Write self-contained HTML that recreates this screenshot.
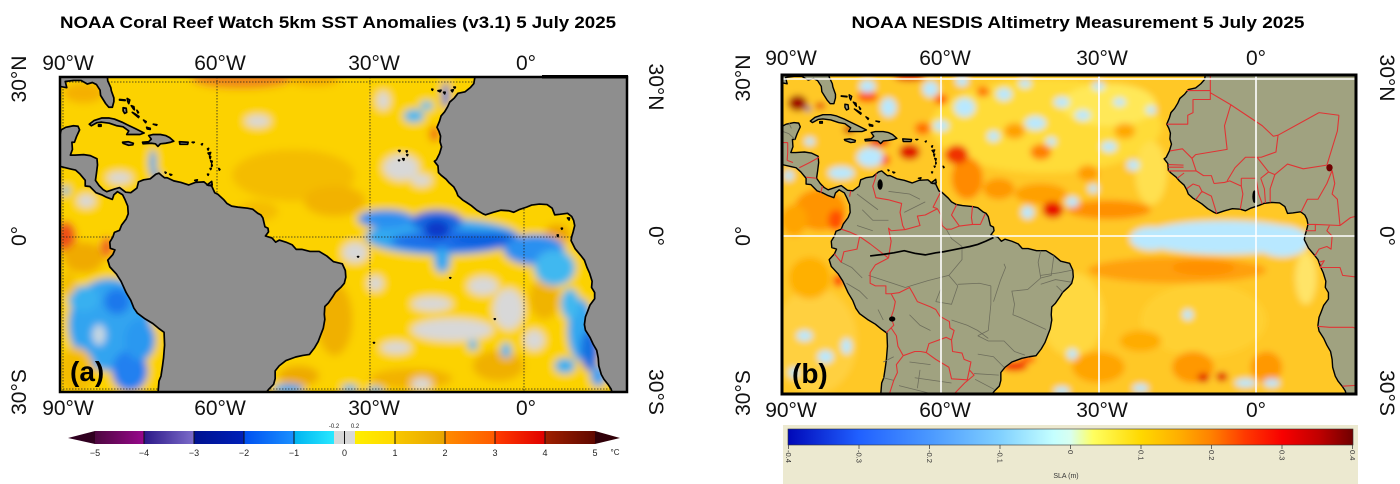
<!DOCTYPE html>
<html><head><meta charset="utf-8"><style>
html,body{margin:0;padding:0;background:#fff;}
svg{display:block;}
text{font-family:"Liberation Sans","DejaVu Sans",sans-serif;}
</style></head><body>
<svg width="1400" height="484" viewBox="0 0 1400 484" xmlns="http://www.w3.org/2000/svg">
<defs>
<clipPath id="cA"><rect x="60" y="77" width="567" height="316"/></clipPath>
<clipPath id="cB"><rect x="782" y="75" width="574" height="320"/></clipPath>
<filter id="bA" filterUnits="userSpaceOnUse" x="-110" y="-45" width="150" height="90"><feGaussianBlur stdDeviation="0.8"/></filter>
<filter id="bB" filterUnits="userSpaceOnUse" x="-110" y="-45" width="150" height="90"><feGaussianBlur stdDeviation="0.6"/></filter>
<path id="am" vector-effect="non-scaling-stroke" d="M-95,-18.5 L-94,-18.2 L-92.5,-18.6 L-91.5,-18.5 L-90.7,-19.5 L-90.4,-20.8 L-89.5,-21.3 L-88,-21.6 L-87.1,-21.5 L-86.8,-20.8 L-87.4,-19.5 L-87.8,-18.4 L-88.3,-18.4 L-88.2,-17 L-88.6,-15.9 L-87.7,-15.9 L-86,-16 L-84.7,-15.8 L-83.4,-15.2 L-83.3,-14 L-83.5,-12.4 L-83.7,-11 L-83,-10 L-82.2,-9.2 L-81.5,-8.8 L-80,-9.3 L-79,-9.6 L-77.8,-8.7 L-76.8,-8.6 L-75.6,-9.5 L-75.3,-10.7 L-74.3,-11.1 L-73,-11.3 L-71.9,-12.2 L-71.3,-12.4 L-70.6,-11.8 L-70.2,-11.5 L-69.7,-11.5 L-68.4,-10.9 L-67,-10.6 L-65.5,-10.1 L-64.2,-10.6 L-62.5,-10.7 L-61.9,-10.2 L-61,-9.9 L-60.4,-8.6 L-59.8,-8.3 L-58.6,-7.2 L-58,-6.5 L-57.1,-6 L-55.9,-5.8 L-54,-5.6 L-53,-5.4 L-52,-4.6 L-51.4,-4.3 L-51,-3.7 L-50.6,-2 L-50,-1.7 L-49.9,-1 L-50.5,-0.2 L-49.2,0.2 L-48.5,1 L-47.8,0.6 L-46.5,1 L-45.3,1.5 L-44.5,2.4 L-43.4,2.4 L-41.8,2.8 L-40,2.8 L-38.5,3.7 L-37.2,4.8 L-35.5,5.2 L-34.9,6.5 L-34.8,7.8 L-35.1,9 L-35.7,9.7 L-36.8,10.7 L-37.3,11.5 L-38.2,12.8 L-38.9,13.5 L-39,15 L-38.9,16 L-39.2,17.7 L-39.7,19 L-40.2,20.3 L-40.9,21.5 L-41.9,22.8 L-43.2,23 L-44.6,23.3 L-46.5,24 L-47.8,25 L-48.6,26 L-48.6,27.5 L-48.9,28.6 L-49.8,29.5 L-50.6,30.5 L-51.3,31.5 L-52.2,32.5 L-53.5,34 L-55,36 L-72,36 L-71.6,33 L-71.5,30.5 L-71.3,28 L-70.9,27 L-70.6,25 L-70.4,23.5 L-70.2,21 L-70.3,18.5 L-71.4,17.7 L-72.5,16.8 L-74,15.9 L-75.5,14.8 L-76.2,13.8 L-76.8,12.3 L-77.7,10.8 L-78.7,8.6 L-79.6,7.2 L-80.9,5.8 L-81.3,4.5 L-80.3,3.4 L-79.9,2.5 L-80.8,2.2 L-80.9,1 L-80.3,0 L-80,-0.9 L-79,-1.3 L-78.6,-2.3 L-77.7,-3.5 L-77.3,-4.5 L-77.4,-6 L-77.9,-7.2 L-78.4,-8.2 L-79.4,-8.8 L-80.1,-8.2 L-80.4,-7.3 L-81.5,-7.7 L-82.5,-8.2 L-83.6,-8.6 L-84.8,-9.8 L-85.7,-9.9 L-85.7,-11 L-86.7,-12.2 L-87.6,-13 L-88.5,-13.2 L-89.8,-13.5 L-91.3,-13.9 L-92.2,-14.5 L-93.5,-15.7 L-95,-16.1 Z"/>
<path id="fl" vector-effect="non-scaling-stroke" d="M-95,-35 L-95,-29.5 L-93,-29.7 L-91,-29.3 L-89.3,-29 L-89.6,-30.2 L-88,-30.4 L-86.5,-30.4 L-85.3,-29.7 L-84.3,-30 L-83.5,-29.6 L-82.8,-28.5 L-82.7,-27.5 L-82.2,-26.7 L-81.7,-25.9 L-81.1,-25.2 L-80.4,-25.2 L-80.1,-26.3 L-80.1,-27 L-80.6,-28.4 L-80.7,-29 L-81.3,-30.3 L-81.4,-31.5 L-80.5,-35 Z"/>
<path id="af" vector-effect="non-scaling-stroke" d="M-10,-36 L-9.6,-31 L-9.8,-29.8 L-10.5,-29 L-11.5,-28.2 L-12.9,-27.9 L-13.6,-27 L-14.5,-26.2 L-14.9,-25.3 L-15.5,-24.3 L-16.2,-23.5 L-16.5,-22.5 L-17,-21.3 L-16.6,-20.5 L-16.3,-19.6 L-16.4,-18.5 L-16.1,-17.5 L-16.5,-16.2 L-17.1,-15 L-17.5,-14.7 L-16.8,-13.8 L-16.7,-12.5 L-16.2,-12 L-15.2,-11.2 L-14.6,-10.5 L-13.7,-9.7 L-13.2,-8.8 L-12.9,-8 L-12,-7.2 L-11.2,-6.7 L-10.3,-6.1 L-9.2,-5.2 L-8,-4.5 L-7.5,-4.3 L-6,-4.8 L-4.5,-5.2 L-3,-5.1 L-2,-4.8 L-1,-5.3 L0.5,-5.8 L1.5,-6.2 L3,-6.4 L4.5,-6.3 L5.5,-5.6 L6,-4.3 L7,-4.4 L8.5,-4.6 L9.3,-4 L9.7,-3.2 L9.9,-2.2 L9.6,-1 L9.3,0 L9.2,0.7 L10,2.3 L11.1,3.6 L11.8,4.5 L12.3,5.9 L12.8,7 L13.3,8.6 L13.2,9.8 L13.8,10.8 L13.8,12 L12.9,13.2 L12.4,14.5 L12,15.5 L11.8,17 L12,18.1 L12.9,19.5 L13.5,20.8 L14.2,22 L14.5,23.5 L14.6,25 L15.1,26.7 L15.6,27.6 L16.4,28.6 L17,29.5 L17.3,30.5 L18,32 L18.3,34 L30,36 L30,-36 Z"/>
<path id="isl" vector-effect="non-scaling-stroke" d="M-84.9,-21.9 L-84,-22.6 L-82.5,-23.1 L-81,-23.1 L-80,-22.9 L-78.5,-22.3 L-77.5,-21.8 L-76,-21.1 L-74.2,-20.2 L-75,-19.9 L-76.5,-19.9 L-77.6,-19.9 L-77.2,-20.6 L-78.3,-21.4 L-79.5,-21.6 L-81,-22.1 L-82.5,-22.3 L-83.4,-22.2 L-84.5,-21.6 Z M-83.1,-21.8 L-82.6,-21.8 L-82.6,-21.5 L-83.1,-21.5 Z M-74.5,-18.4 L-73.3,-18.5 L-72.8,-19 L-73.3,-19.7 L-72.5,-19.9 L-71,-19.9 L-70,-19.7 L-69.2,-19.3 L-68.4,-18.6 L-69,-18.4 L-70,-18.2 L-71,-18.1 L-71.5,-17.6 L-72,-18.1 L-72.8,-18.2 L-74.4,-18.1 Z M-78.4,-18.4 L-77.3,-18.5 L-76.3,-18.2 L-76.4,-17.9 L-77.2,-17.8 L-78.3,-18.2 Z M-67.3,-18.5 L-65.6,-18.4 L-65.7,-18 L-67.2,-18 Z M-79,-26.7 L-77.9,-26.6 L-77.9,-26.5 L-79,-26.6 Z M-77.5,-26.9 L-77,-26.6 L-77.2,-25.9 L-77.4,-26.3 Z M-78.3,-25.1 L-77.7,-25 L-77.6,-24.2 L-78,-24 L-78.3,-24.5 Z M-76.7,-25.5 L-76.2,-25.3 L-76.1,-24.7 L-76.3,-24.9 Z M-76.5,-24.2 L-75.3,-23.2 L-75.2,-23.4 L-76.3,-24.1 Z M-75.6,-24.6 L-75.3,-24.2 L-75.4,-24.1 Z M-73.7,-21.3 L-73,-21.1 L-73,-20.9 L-73.6,-21 Z M-74.3,-22.7 L-73.8,-22.4 L-73.9,-22.2 Z M-72.4,-21.9 L-71.7,-21.8 L-71.8,-21.7 Z M-61.9,-10.1 L-61,-10.8 L-60.9,-10.1 L-61.6,-10 Z M-64.3,-11 L-63.8,-11.1 L-63.9,-10.9 Z M-69.2,-12.2 L-68.8,-12.1 L-69,-12 Z M-70.1,-12.6 L-69.9,-12.5 L-70,-12.4 Z M-61.8,-17.1 L-61.6,-17.2 L-61.7,-16.9 Z M-61.7,-16.3 L-61.2,-16.4 L-61.4,-15.9 Z M-61.4,-15.6 L-61.2,-15.6 L-61.3,-15.2 Z M-61.2,-14.8 L-60.9,-14.7 L-61,-14.4 Z M-61,-14.1 L-60.9,-13.9 L-61,-13.7 Z M-61.3,-13.3 L-61.1,-13.3 L-61.2,-13.1 Z M-61.8,-12.2 L-61.6,-12.2 L-61.7,-12 Z M-59.6,-13.3 L-59.4,-13.1 L-59.5,-13 Z M-63,-18 L-62.8,-18.1 L-62.9,-17.9 Z M-64.8,-18.4 L-64.4,-18.4 L-64.6,-18.3 Z"/>
<path id="ais" vector-effect="non-scaling-stroke" d="M-24.5,-16.8 L-24.2,-16.8 L-24.3,-16.6 Z M-23,-16.7 L-22.8,-16.7 L-22.9,-16.5 Z M-22.9,-16 L-22.7,-16 L-22.8,-15.8 Z M-24.5,-14.9 L-24.3,-14.9 L-24.4,-14.8 Z M-23.7,-15.2 L-23.4,-15.2 L-23.5,-14.9 Z M-18,-28.7 L-17.8,-28.7 L-17.9,-28.5 Z M-16.8,-28.4 L-16.2,-28.5 L-16.4,-28.2 Z M-15.7,-28.1 L-15.4,-28.1 L-15.5,-27.8 Z M-14.2,-28.5 L-13.8,-28.6 L-14,-28.2 Z M-13.7,-29.1 L-13.4,-29.1 L-13.5,-28.9 Z M8.5,-3.7 L8.9,-3.7 L8.8,-3.3 Z M7.3,-1.7 L7.5,-1.7 L7.4,-1.5 Z M6.5,-0.4 L6.7,-0.4 L6.6,-0.1 Z M-32.5,3.8 L-32.3,3.8 L-32.4,3.9 Z M-14.5,7.9 L-14.3,7.9 L-14.4,8 Z M-5.8,15.9 L-5.6,15.9 L-5.7,16 Z M-29.4,20.5 L-29.2,20.5 L-29.3,20.6 Z"/>
<linearGradient id="g1"><stop offset="0" stop-color="#4e0840"/><stop offset="1" stop-color="#98088c"/></linearGradient>
<linearGradient id="g2"><stop offset="0" stop-color="#2c1888"/><stop offset="1" stop-color="#7c6cca"/></linearGradient>
<linearGradient id="g3"><stop offset="0" stop-color="#001290"/><stop offset="1" stop-color="#0020b8"/></linearGradient>
<linearGradient id="g4"><stop offset="0" stop-color="#0050f0"/><stop offset="1" stop-color="#1a90ff"/></linearGradient>
<linearGradient id="g5"><stop offset="0" stop-color="#00b4f0"/><stop offset="1" stop-color="#28e8ff"/></linearGradient>
<linearGradient id="g7"><stop offset="0" stop-color="#ffee00"/><stop offset="1" stop-color="#ffd800"/></linearGradient>
<linearGradient id="g8"><stop offset="0" stop-color="#f8c800"/><stop offset="1" stop-color="#e8a400"/></linearGradient>
<linearGradient id="g9"><stop offset="0" stop-color="#ff8c00"/><stop offset="1" stop-color="#ff5a00"/></linearGradient>
<linearGradient id="g10"><stop offset="0" stop-color="#ff3c00"/><stop offset="1" stop-color="#e00000"/></linearGradient>
<linearGradient id="g11"><stop offset="0" stop-color="#a02000"/><stop offset="1" stop-color="#600800"/></linearGradient>
<linearGradient id="gB">
<stop offset="0" stop-color="#0008b8"/><stop offset="0.125" stop-color="#2060ff"/><stop offset="0.25" stop-color="#4a98ff"/><stop offset="0.375" stop-color="#80d0ff"/><stop offset="0.47" stop-color="#c4ffff"/><stop offset="0.5" stop-color="#d8fff0"/><stop offset="0.54" stop-color="#ffff60"/><stop offset="0.625" stop-color="#ffd800"/><stop offset="0.69" stop-color="#ffb000"/><stop offset="0.75" stop-color="#ff8000"/><stop offset="0.81" stop-color="#ff3800"/><stop offset="0.875" stop-color="#f80000"/><stop offset="0.94" stop-color="#c00000"/><stop offset="1" stop-color="#700000"/>
</linearGradient>
</defs>

<!-- ================= PANEL A ================= -->
<text x="338" y="28" text-anchor="middle" font-size="17" font-weight="bold" textLength="556" lengthAdjust="spacingAndGlyphs">NOAA Coral Reef Watch 5km SST Anomalies (v3.1) 5 July 2025</text>

<g clip-path="url(#cA)">
<g transform="translate(524,237) scale(5.12,5.15)">
<g filter="url(#bA)">
<rect x="-100" y="-40" width="140" height="80" fill="#fcd200"/>
<ellipse cx="-45" cy="-12" rx="12" ry="5" fill="#f4bc00"/>
<ellipse cx="-37" cy="-7" rx="6" ry="3" fill="#f2b200"/>
<ellipse cx="-52" cy="-5" rx="4" ry="2" fill="#f4bc00"/>
<ellipse cx="-55" cy="-30.8" rx="10" ry="2" fill="#f08818"/>
<ellipse cx="-41" cy="-30.6" rx="5" ry="1.3" fill="#f5aa00"/>
<ellipse cx="-86" cy="-28" rx="4" ry="2" fill="#f5b000"/>
<ellipse cx="-89.5" cy="0" rx="2" ry="3" fill="#ee5018"/>
<ellipse cx="-81.5" cy="2" rx="1.2" ry="2" fill="#f06020"/>
<ellipse cx="-86" cy="4" rx="4" ry="3" fill="#f0aa00"/>
<ellipse cx="-37" cy="16" rx="3.5" ry="7" fill="#f0b000"/>
<ellipse cx="-44" cy="27" rx="4" ry="2" fill="#eeaa00"/>
<ellipse cx="-22" cy="27.5" rx="8" ry="2" fill="#f2b200"/>
<ellipse cx="-5" cy="25" rx="5" ry="3" fill="#f0b000"/>
<ellipse cx="4" cy="12" rx="3" ry="4" fill="#f0b400"/>
<ellipse cx="6.5" cy="-0.5" rx="2.5" ry="2" fill="#eea400"/>
<ellipse cx="-17.5" cy="-20" rx="1" ry="1.5" fill="#f07010"/>
<g fill="#d8d8d8">
<ellipse cx="-52" cy="-22.5" rx="2.5" ry="1.2"/>
<ellipse cx="-27.5" cy="-26.5" rx="1.3" ry="1.8"/>
<ellipse cx="-24" cy="-13.5" rx="3.5" ry="2.5"/>
<ellipse cx="-20" cy="-11" rx="2" ry="1.2"/>
<ellipse cx="-79" cy="-11.5" rx="2.5" ry="1.2"/>
<ellipse cx="-85.5" cy="-7" rx="1.8" ry="1.3"/>
<ellipse cx="-33" cy="3" rx="2.5" ry="2"/>
<ellipse cx="-14" cy="18" rx="8" ry="2.2"/>
<ellipse cx="-18" cy="13" rx="4" ry="1.4"/>
<ellipse cx="-3" cy="14" rx="3" ry="4"/>
<ellipse cx="-25" cy="21.5" rx="3" ry="1.2"/>
<ellipse cx="-8" cy="9.5" rx="3" ry="1.8"/>
<ellipse cx="-29" cy="9" rx="1.5" ry="1.5"/>
<ellipse cx="-20" cy="28.5" rx="2" ry="1.2"/>
<ellipse cx="2" cy="20" rx="2" ry="2"/>
</g>
<ellipse cx="-16" cy="0" rx="15" ry="3.5" fill="#30a8f0"/>
<ellipse cx="-27" cy="-3.5" rx="5.5" ry="1.8" fill="#2a90f0"/>
<ellipse cx="-17" cy="-3" rx="5" ry="2.2" fill="#1468e0"/>
<ellipse cx="-14" cy="0.8" rx="12" ry="2" fill="#1a6ee8"/>
<ellipse cx="-17" cy="-1.5" rx="2.5" ry="1.8" fill="#0838c8"/>
<ellipse cx="-7" cy="0.5" rx="7" ry="1.5" fill="#1060e0"/>
<ellipse cx="-16" cy="4.5" rx="1.6" ry="2.5" fill="#30a8f0"/>
<ellipse cx="2" cy="2.5" rx="6" ry="3" fill="#2a90f0"/>
<ellipse cx="6" cy="6" rx="4" ry="3.5" fill="#40b8f0"/>
<ellipse cx="11" cy="18" rx="2.5" ry="6" fill="#30a8f0"/>
<ellipse cx="12.8" cy="22" rx="1.8" ry="4" fill="#1470e0"/>
<ellipse cx="9" cy="13" rx="1.8" ry="3" fill="#40b8f0"/>
<ellipse cx="8" cy="25" rx="2" ry="1.5" fill="#30b0f0"/>
<ellipse cx="14.5" cy="27" rx="1.5" ry="2" fill="#3aa0f0"/>
<!-- SE Pacific -->
<ellipse cx="-81" cy="17" rx="8" ry="9" fill="#30a4f0"/>
<ellipse cx="-79.5" cy="12.5" rx="2.5" ry="2.5" fill="#1c78ec"/>
<ellipse cx="-77" cy="26" rx="3.5" ry="4" fill="#2280f0"/>
<ellipse cx="-86" cy="12" rx="3" ry="2.5" fill="#38b0f0"/>
<ellipse cx="-75" cy="20" rx="3" ry="4" fill="#2c98f0"/>
<ellipse cx="-83" cy="19" rx="1.3" ry="2" fill="#c8d8e0"/>
<ellipse cx="-87.5" cy="26" rx="3.5" ry="4.5" fill="#f4bc00"/>
<ellipse cx="-89" cy="9" rx="1.5" ry="2.5" fill="#f4c000"/>
<ellipse cx="-15.3" cy="-27.5" rx="0.7" ry="2.5" fill="#2070e0"/>
<ellipse cx="-21.5" cy="-23.5" rx="2" ry="1.3" fill="#40b8f0"/>
<ellipse cx="-19" cy="-25.5" rx="1.3" ry="0.9" fill="#50c0f0"/>
<ellipse cx="-72.5" cy="-14.5" rx="0.7" ry="2.5" fill="#30a8f0"/>
<ellipse cx="-71.8" cy="-12" rx="0.9" ry="0.7" fill="#1890e8"/>
<ellipse cx="-89.5" cy="-9" rx="0.8" ry="0.8" fill="#40b8f0"/>
<ellipse cx="-46" cy="29.5" rx="3" ry="1" fill="#30a8f0"/>
<ellipse cx="-34" cy="29.5" rx="1.5" ry="0.8" fill="#40b8f0"/>
<ellipse cx="-29" cy="29.8" rx="1.5" ry="0.7" fill="#40b8f0"/>
<ellipse cx="-10" cy="21" rx="1" ry="1" fill="#40b8f0"/>
<ellipse cx="-3.5" cy="22" rx="1" ry="1.5" fill="#40b8f0"/>
</g>
</g>
<!-- dotted gridlines A -->
<g stroke="#222" stroke-width="0.8" stroke-dasharray="1.5,1.5" fill="none">
<line x1="63" y1="77" x2="63" y2="393"/>
<line x1="217" y1="77" x2="217" y2="393"/>
<line x1="370" y1="77" x2="370" y2="393"/>
<line x1="524" y1="77" x2="524" y2="393"/>
<line x1="60" y1="237" x2="627" y2="237"/>
<line x1="60" y1="82" x2="627" y2="82"/>
<line x1="60" y1="389" x2="627" y2="389"/>
</g>
<g transform="translate(524,237) scale(5.12,5.15)" fill="#8e8e8e" stroke="#000" stroke-width="1.7" stroke-linejoin="round">
<use href="#am"/><use href="#fl"/><use href="#af"/><use href="#isl"/><use href="#ais"/>
</g>
</g>
<rect x="60" y="77" width="567" height="315" fill="none" stroke="#000" stroke-width="2.5"/>
<rect x="542" y="75" width="86" height="3.5" fill="#000"/>

<g font-size="21" fill="#111" text-anchor="middle">
<text x="68" y="70">90°W</text><text x="220" y="70">60°W</text><text x="374" y="70">30°W</text><text x="526" y="70">0°</text>
<text x="68" y="415">90°W</text><text x="220" y="415">60°W</text><text x="374" y="415">30°W</text><text x="526" y="415">0°</text>
<text transform="translate(26,79) rotate(-90)">30°N</text>
<text transform="translate(26,236) rotate(-90)">0°</text>
<text transform="translate(26,392) rotate(-90)">30°S</text>
<text transform="translate(649,87) rotate(90)">30°N</text>
<text transform="translate(649,236) rotate(90)">0°</text>
<text transform="translate(649,392) rotate(90)">30°S</text>
</g>
<text x="70" y="381" font-family="'Liberation Serif',serif" font-weight="bold" font-size="28" fill="#000">(a)</text>

<!-- colorbar A -->
<polygon points="68,438 95,431 95,444" fill="#300020"/>
<polygon points="620,438 595,431 595,444" fill="#300008"/>
<rect x="95" y="431" width="49" height="13" fill="url(#g1)"/>
<rect x="144" y="431" width="50" height="13" fill="url(#g2)"/>
<rect x="194" y="431" width="50" height="13" fill="url(#g3)"/>
<rect x="244" y="431" width="50" height="13" fill="url(#g4)"/>
<rect x="294" y="431" width="40" height="13" fill="url(#g5)"/>
<rect x="334" y="431" width="21" height="13" fill="#d8d8d8"/>
<rect x="355" y="431" width="40" height="13" fill="url(#g7)"/>
<rect x="395" y="431" width="50" height="13" fill="url(#g8)"/>
<rect x="445" y="431" width="50" height="13" fill="url(#g9)"/>
<rect x="495" y="431" width="50" height="13" fill="url(#g10)"/>
<rect x="545" y="431" width="50" height="13" fill="url(#g11)"/>
<g stroke="#111" stroke-width="1">
<line x1="144" y1="431" x2="144" y2="444"/><line x1="194" y1="431" x2="194" y2="444"/><line x1="244" y1="431" x2="244" y2="444"/><line x1="294" y1="431" x2="294" y2="444"/><line x1="344.5" y1="431" x2="344.5" y2="444"/><line x1="395" y1="431" x2="395" y2="444"/><line x1="445" y1="431" x2="445" y2="444"/><line x1="495" y1="431" x2="495" y2="444"/><line x1="545" y1="431" x2="545" y2="444"/>
</g>
<g font-size="9" fill="#222" text-anchor="middle">
<text x="95" y="456">−5</text><text x="144" y="456">−4</text><text x="194" y="456">−3</text><text x="244" y="456">−2</text><text x="294" y="456">−1</text><text x="344.5" y="456">0</text><text x="395" y="456">1</text><text x="445" y="456">2</text><text x="495" y="456">3</text><text x="545" y="456">4</text><text x="595" y="456">5</text>
<text x="615" y="455" font-size="8">°C</text>
<text x="334" y="428" font-size="6">-0.2</text><text x="355" y="428" font-size="6">0.2</text>
</g>

<!-- ================= PANEL B ================= -->
<text x="1078" y="28" text-anchor="middle" font-size="17" font-weight="bold" textLength="453" lengthAdjust="spacingAndGlyphs">NOAA NESDIS Altimetry Measurement 5 July 2025</text>

<g clip-path="url(#cB)">
<g transform="translate(1256,236) scale(5.25,5.25)">
<g filter="url(#bB)">
<rect x="-100" y="-40" width="140" height="80" fill="#ffc828"/>
<ellipse cx="-40" cy="-21" rx="22" ry="9" fill="#ffdc38"/>
<ellipse cx="-28" cy="-25" rx="9" ry="4" fill="#ffe858"/>
<ellipse cx="-10" cy="16" rx="12" ry="7" fill="#ffd030"/>
<ellipse cx="-35" cy="15" rx="6" ry="8" fill="#ffd840"/>
<ellipse cx="-84" cy="20" rx="8" ry="10" fill="#ffd040"/>
<ellipse cx="-20" cy="-12" rx="3" ry="6" fill="#ffe050"/>
<ellipse cx="9.5" cy="8" rx="2" ry="5" fill="#ffe468"/>
<ellipse cx="-15" cy="6.5" rx="17" ry="2.5" fill="#ffa010"/>
<ellipse cx="-10" cy="6" rx="6" ry="1.5" fill="#ff9000"/>
<ellipse cx="-28" cy="-5" rx="8" ry="1.8" fill="#ff9000"/>
<ellipse cx="-55" cy="-11" rx="3" ry="4" fill="#ff8a00"/>
<ellipse cx="-49" cy="-9" rx="3" ry="2" fill="#ff9800"/>
<ellipse cx="-41" cy="-8" rx="5" ry="2" fill="#ffa000"/>
<ellipse cx="-83" cy="-5" rx="5" ry="4" fill="#ff9400"/>
<ellipse cx="-88" cy="-3" rx="2.5" ry="3" fill="#ffa400"/>
<ellipse cx="-12" cy="25" rx="4" ry="3" fill="#ff9800"/>
<ellipse cx="2" cy="25" rx="3" ry="3" fill="#ff9800"/>
<ellipse cx="-30" cy="25" rx="5" ry="3" fill="#ffa400"/>
<ellipse cx="-22" cy="20" rx="4" ry="2" fill="#ffac00"/>
<ellipse cx="-85" cy="8" rx="4" ry="4" fill="#ffb000"/>
<ellipse cx="-41" cy="-16" rx="2" ry="1.5" fill="#ff8000"/>
<ellipse cx="-32" cy="-12" rx="2" ry="1.5" fill="#ff9c00"/>
<ellipse cx="-46" cy="-20" rx="2" ry="1.5" fill="#ffa000"/>
<ellipse cx="-25" cy="-20" rx="2" ry="1.5" fill="#ffa800"/>
<ellipse cx="-87.3" cy="-25.3" rx="1.8" ry="1.5" fill="#a00000"/>
<ellipse cx="-83" cy="-24.8" rx="1" ry="0.6" fill="#e02000"/>
<ellipse cx="-74" cy="-26.5" rx="2" ry="1" fill="#ff5000"/>
<ellipse cx="-66" cy="-30.5" rx="3" ry="1" fill="#e02000"/>
<ellipse cx="-77.5" cy="-20.3" rx="1" ry="0.8" fill="#c00000"/>
<ellipse cx="-71.8" cy="-17.9" rx="2" ry="0.9" fill="#f03000"/>
<ellipse cx="-70.7" cy="-14.5" rx="1" ry="1" fill="#ff4000"/>
<ellipse cx="-66" cy="-16" rx="2" ry="1.5" fill="#e01800"/>
<ellipse cx="-63.5" cy="-20.5" rx="1.5" ry="1.2" fill="#ff7000"/>
<ellipse cx="-57" cy="-15.5" rx="2.2" ry="1.8" fill="#f03000"/>
<ellipse cx="-38.7" cy="-5" rx="2" ry="1.6" fill="#e81000"/>
<ellipse cx="-80" cy="-3" rx="1.5" ry="2" fill="#ff5000"/>
<ellipse cx="-10" cy="27" rx="1.1" ry="0.9" fill="#e00000"/>
<ellipse cx="-6.5" cy="26.8" rx="1.1" ry="0.9" fill="#e00000"/>
<ellipse cx="-46" cy="24.8" rx="2.5" ry="0.9" fill="#f01000"/>
<ellipse cx="-43.5" cy="23.5" rx="1.5" ry="0.6" fill="#ff3000"/>
<ellipse cx="-79.5" cy="8.5" rx="1" ry="1.2" fill="#ff4000"/>
<ellipse cx="-60" cy="-26" rx="1.3" ry="1" fill="#ff6000"/>
<ellipse cx="-52" cy="-27.5" rx="1.3" ry="1" fill="#ff7800"/>
<g fill="#b8e8ff">
<ellipse cx="-74" cy="-28.5" rx="1.5" ry="1.2"/><ellipse cx="-70" cy="-24.5" rx="1.5" ry="1.8"/><ellipse cx="-62" cy="-28" rx="1.5" ry="1.5"/><ellipse cx="-56" cy="-29.5" rx="1.2" ry="1"/><ellipse cx="-55.5" cy="-24.5" rx="2" ry="1.8"/><ellipse cx="-48" cy="-27" rx="1.5" ry="1.2"/><ellipse cx="-42" cy="-21.5" rx="2" ry="1.3"/><ellipse cx="-37" cy="-25.5" rx="1.5" ry="1"/><ellipse cx="-33" cy="-23" rx="1.5" ry="1"/><ellipse cx="-28" cy="-17" rx="1.5" ry="1"/><ellipse cx="-23.4" cy="-13.5" rx="1.2" ry="1"/><ellipse cx="-35" cy="-6.5" rx="1.2" ry="1"/><ellipse cx="-73.5" cy="-15" rx="2.5" ry="1.8"/><ellipse cx="-79" cy="-12" rx="2.5" ry="1.2"/><ellipse cx="-43.5" cy="-4.5" rx="1.2" ry="1.2"/><ellipse cx="-89" cy="-11.5" rx="1" ry="1"/><ellipse cx="-60" cy="-21" rx="1.5" ry="1"/><ellipse cx="-50" cy="-19" rx="1.2" ry="1"/><ellipse cx="-85" cy="-18" rx="1" ry="0.8"/>
<ellipse cx="-44" cy="-29" rx="1.2" ry="0.8"/><ellipse cx="-30" cy="-28.5" rx="1.2" ry="0.8"/><ellipse cx="-20" cy="-24" rx="1" ry="0.8"/><ellipse cx="-39" cy="-18" rx="1" ry="0.8"/><ellipse cx="-31" cy="-9" rx="1" ry="0.8"/><ellipse cx="-26" cy="-25.5" rx="1.2" ry="0.8"/>
<ellipse cx="-6" cy="0.3" rx="16" ry="3.2"/><ellipse cx="-20" cy="0.5" rx="4" ry="2.2"/><ellipse cx="5" cy="1" rx="5" ry="3"/>
<ellipse cx="-86" cy="19" rx="1.5" ry="1"/><ellipse cx="-82" cy="23" rx="1.5" ry="1.2"/><ellipse cx="-88" cy="26" rx="1" ry="1"/><ellipse cx="-78" cy="21" rx="1" ry="1.5"/><ellipse cx="-37" cy="29.5" rx="1.5" ry="0.8"/><ellipse cx="-2" cy="28" rx="2" ry="0.8"/><ellipse cx="-22" cy="29" rx="1.5" ry="0.8"/><ellipse cx="-35" cy="22.5" rx="1" ry="1"/><ellipse cx="-13" cy="15" rx="1" ry="1"/><ellipse cx="3" cy="28" rx="1.5" ry="0.8"/>
</g>
<ellipse cx="-85.3" cy="-24.2" rx="0.5" ry="0.5" fill="#2040c0"/>
</g>
<g fill="#a0a280" stroke="#000" stroke-width="1.4" stroke-linejoin="round">
<use href="#am"/><use href="#fl"/><use href="#af"/><use href="#isl"/>
</g>
<path vector-effect="non-scaling-stroke" fill="none" stroke="#6e6e5c" stroke-width="0.8" d="M-73.8,7.5 L-66.8,9.8 M-66.8,9.8 L-62.5,8.5 L-58.5,7.5 L-56.8,9.5 M-58.5,7.5 L-56,4.5 L-56,2 M-56,2 L-58,0.5 L-59,-1.3 M-50.5,9.5 L-52.7,9 L-56.8,9.2 M-50.5,9.5 L-50.5,13 L-51,18 L-53,19 M-48,5.3 L-47.7,6 L-48.7,8.5 L-50,12.5 M-41,2.8 L-41.5,5 L-41,8 L-43.5,10.2 L-46.5,10.5 L-46,13 M-38.5,3.7 L-39,7.5 L-41,8 M-35,6.5 L-37.5,7 L-41,7.5 M-35.2,8.8 L-38.2,8.3 L-41,9.2 M-36.8,10.7 L-38,9.5 M-46,13 L-46.3,15 L-45,15.5 L-40,17.8 M-53,19 L-51,20 L-48,20 L-46,22 L-44,22.7 M-53,22.5 L-50,23 L-48,25 M-53.7,26.2 L-49,26.5 M-53.5,27.3 L-49.7,29.3 M-58,16 L-55,17 L-53,18 L-51,19.5 M-61,12.5 L-58,13 L-56.8,9.5 M-60,10 L-61,12.5 M-66,24 L-62,24.5 M-65,27 L-58,28 M-68,28.5 L-62,30 M-64,25.5 L-64.5,29 M-76,-8 L-74,-6.5 L-72,-5 M-75,-5 L-73,-3 L-70,-3 M-76,-2 L-73,-1 M-79,5 L-77,6 L-75,8 M-78,9 L-75.5,10.5 L-74,12 M-72,14 L-71,16 M-70,-8.5 L-66,-8 L-64,-7 M-67,-4.5 L-63,-6.5 M-66,15 L-64,17 L-62,18 M-71,24 L-69,23 M-71,27 L-69,27.5 M-92,-18.6 L-91,-17.5 M-90.4,-20 L-89,-19.5 L-87.8,-18.4 M-89,-21.6 L-88.5,-20.5"/>
<path vector-effect="non-scaling-stroke" fill="none" stroke="#e03434" stroke-width="1.1" stroke-linejoin="round" d="M-72.3,-11.9 L-72.5,-11 L-73,-9.5 L-72.4,-7.3 L-70,-6.9 L-67.5,-6.2 L-67.8,-4.5 L-67.3,-2 L-66.9,-1.2 M-79,-1.3 L-77.5,-0.8 L-75.5,0.1 M-75.5,0.1 L-73.5,1.5 L-70,4.2 M-70,4.2 L-69.5,1 L-70,-1.5 L-69.5,-1 L-67,-1.2 L-66.9,-1.2 M-80.3,3.4 L-79,5 L-78.5,3 L-76,2.5 L-75.5,0.1 M-60,-8.5 L-61,-6.5 L-61.5,-5.5 L-60.7,-5.2 M-60.7,-5.2 L-63,-4 L-64.5,-3.8 L-64,-2 L-66.9,-1.2 M-60.7,-5.2 L-60,-4 L-59.8,-2 L-59,-1.3 L-58,-1.3 L-56.5,-1.9 M-57,-6 L-58,-4 L-56.5,-1.9 M-54,-5.7 L-54.2,-3.5 L-54,-2.2 M-56.5,-1.9 L-54,-2.2 L-52.5,-2.2 L-51.6,-4.2 M-70,4.2 L-72.5,5.5 L-73.5,7 L-73.5,9 L-72.5,9.5 L-70.5,9.5 L-70.5,11 L-69.5,11 M-69.5,11 L-68.7,12.5 L-69,14 L-69.5,15.5 L-69,17 L-69.5,17.5 L-70.4,18.4 M-69.5,11 L-68,10.8 L-66,9.8 L-65.3,11 L-64.5,12.5 L-62,13.5 L-61,14 L-60.2,15.3 L-58.4,16.3 L-58.3,17.5 L-57.5,18 L-58,19.8 M-69.5,17.5 L-68.5,19 L-68.2,21 L-67.2,22.8 M-67.2,22.8 L-65,22 L-63.9,22 L-62.8,22.2 M-62.8,22.2 L-62.3,20.5 L-59,19.3 L-58,19.8 M-58,19.8 L-57.8,22 L-56,22.3 L-55.6,23.5 L-54.3,24 L-54.6,25.5 M-62.8,22.2 L-61,23.5 L-58.5,25 L-58,27.2 L-55,27.4 L-54.6,25.5 M-54.6,25.5 L-53.7,26.5 L-55.5,28 L-57.6,30.2 M-57.6,30.2 L-56,31 L-53.2,32.5 L-53.4,33.7 M-67.2,22.8 L-68.5,24.5 L-68.3,26 L-69,27.5 L-69.8,30 L-70,33 M-92.2,-14.5 L-92,-16 L-91,-16 L-91,-17.8 L-89.2,-17.8 M-89.2,-17.8 L-89.2,-15.9 M-89.2,-15.9 L-89.3,-14.4 M-88.2,-14 L-89.3,-14.4 M-83.2,-15 L-85,-14 L-87,-13 M-83.7,-11 L-85.7,-11.2 M-82.6,-9.5 L-82.9,-8.2 M-77.2,-8.6 L-77.4,-7.5 M-13.2,-27.7 L-8.7,-27.7 L-8.7,-33 M-17,-21.3 L-13,-21.3 L-13,-23 L-12,-23.5 L-12,-26 L-8.7,-26 L-8.7,-27.7 M-8.7,-27.3 L-4.8,-25 L1.2,-21 L3.3,-19 L4.2,-19.2 L12,-23.5 M-4.8,-25 L-6,-21 L-5.5,-16.5 L-11.5,-15.5 L-12.2,-14.8 M-16.4,-16.2 L-14,-16.6 L-12.2,-14.8 L-11.4,-12.4 M-16.7,-13.6 L-13.8,-13.5 M-16.7,-13.1 L-13.8,-13.1 M-16.7,-12.4 L-11.4,-12.4 M-15,-11 L-13.7,-12 M-11.4,-12.4 L-10,-11.5 L-8.5,-11.5 L-8,-10 M-13.2,-9 L-12,-9.9 L-10.8,-9.5 L-10.3,-8.5 M-11.5,-6.9 L-10.3,-8.5 M-10.3,-8.5 L-8.5,-7.6 L-7.5,-4.3 M-8,-10 L-6,-10.2 L-5,-10.5 L-2.8,-9.5 M-3,-5.1 L-2.5,-8 L-2.8,-9.5 L-2.8,-11 M-2.8,-11 L0,-11 M1.2,-6.1 L0.5,-8 L0,-11 M1.8,-6.3 L1.6,-9 L0.9,-11 M2.7,-6.4 L2.7,-9 L3.6,-11.7 M0.9,-11 L2.4,-12.2 L3.6,-11.7 M-5.5,-10.5 L-4,-13 L-2,-15 L0.2,-15 L2.4,-12.2 M4.2,-19.2 L3.8,-16 L1,-15 L0.2,-15 M3.6,-11.7 L6,-13.7 L9,-12.8 L13.5,-13.5 M8.6,-4.6 L9.8,-7 L11.8,-7 L13.5,-10 L14.5,-12.5 M14.5,-12.5 L15,-10 L14.5,-8 L15.5,-7 L16,-2 M9.8,-2.2 L11.3,-2.2 L16,-2 M9.5,-1 L11.3,-1 L11.3,-2.2 M11.2,3.8 L12,2.5 L13.5,2 L14.3,2.5 L14.5,0 L13.5,-1 L14,-2 M12,5 L13,4.7 L12.2,6 M12.3,6 L16,6 L16.5,7.5 L19,7.8 L20,7 M11.8,17.2 L14,17.4 L18.5,17.4 L20,18 M16.5,28.6 L20,28.4 M13.5,-13.5 L15.5,-20 L15.8,-23 M12,-23.5 L15.8,-23 M16,-2 L18,-3.5 L20,-4"/>
<path vector-effect="non-scaling-stroke" fill="none" stroke="#000" stroke-width="1.7" d="M-73.5,3.8 L-71,3.5 L-69,3.2 L-67,2.8 L-65,3.3 L-63,3.6 L-61,3.2 L-59.5,3 L-58,2.7 L-56,2.3 L-54.5,2 L-53,1.6 L-51.5,1 L-50,0.3"/>
<ellipse cx="-71.6" cy="-9.8" rx="0.5" ry="1" fill="#000"/>
<ellipse cx="-69.3" cy="15.8" rx="0.6" ry="0.5" fill="#000"/>
<ellipse cx="-0.3" cy="-7.5" rx="0.4" ry="1.2" fill="#000"/>
<ellipse cx="14" cy="-13" rx="0.6" ry="0.7" fill="#700000"/>
</g>
<g stroke="#fff" stroke-width="1.6">
<line x1="941" y1="75" x2="941" y2="395"/>
<line x1="1099" y1="75" x2="1099" y2="395"/>
<line x1="1256" y1="75" x2="1256" y2="395"/>
<line x1="782" y1="236" x2="1356" y2="236"/>
<line x1="782" y1="79" x2="1356" y2="79"/>
</g>
</g>
<rect x="782" y="75" width="574" height="319" fill="none" stroke="#000" stroke-width="3"/>

<g font-size="21" fill="#111" text-anchor="middle">
<text x="791" y="65">90°W</text><text x="945" y="65">60°W</text><text x="1102" y="65">30°W</text><text x="1256" y="65">0°</text>
<text x="791" y="417">90°W</text><text x="945" y="417">60°W</text><text x="1102" y="417">30°W</text><text x="1256" y="417">0°</text>
<text transform="translate(750,78) rotate(-90)">30°N</text>
<text transform="translate(750,236) rotate(-90)">0°</text>
<text transform="translate(750,393) rotate(-90)">30°S</text>
<text transform="translate(1380,78) rotate(90)">30°N</text>
<text transform="translate(1380,236) rotate(90)">0°</text>
<text transform="translate(1380,393) rotate(90)">30°S</text>
</g>
<text x="792" y="383" font-family="'Liberation Serif',serif" font-weight="bold" font-size="28" fill="#000">(b)</text>

<!-- colorbar B -->
<rect x="783" y="425" width="575" height="59" fill="#ece9d0"/>
<rect x="788" y="429" width="565" height="16" fill="url(#gB)" stroke="#333" stroke-width="0.6"/>
<g stroke="#333" stroke-width="0.7">
<line x1="788.5" y1="445" x2="788.5" y2="449"/><line x1="859" y1="445" x2="859" y2="449"/><line x1="929.5" y1="445" x2="929.5" y2="449"/><line x1="1000" y1="445" x2="1000" y2="449"/><line x1="1070.5" y1="445" x2="1070.5" y2="449"/><line x1="1141" y1="445" x2="1141" y2="449"/><line x1="1211.5" y1="445" x2="1211.5" y2="449"/><line x1="1282" y1="445" x2="1282" y2="449"/><line x1="1352.5" y1="445" x2="1352.5" y2="449"/>
</g>
<g font-size="7.5" fill="#333">
<text transform="translate(786,450) rotate(90)">-0.4</text>
<text transform="translate(856.5,450) rotate(90)">-0.3</text>
<text transform="translate(927,450) rotate(90)">-0.2</text>
<text transform="translate(997.5,450) rotate(90)">-0.1</text>
<text transform="translate(1068,450) rotate(90)">0</text>
<text transform="translate(1138.5,450) rotate(90)">0.1</text>
<text transform="translate(1209,450) rotate(90)">0.2</text>
<text transform="translate(1279.5,450) rotate(90)">0.3</text>
<text transform="translate(1350,450) rotate(90)">0.4</text>
</g>
<text x="1066" y="478" font-size="7" fill="#333" text-anchor="middle">SLA (m)</text>
</svg>
</body></html>
